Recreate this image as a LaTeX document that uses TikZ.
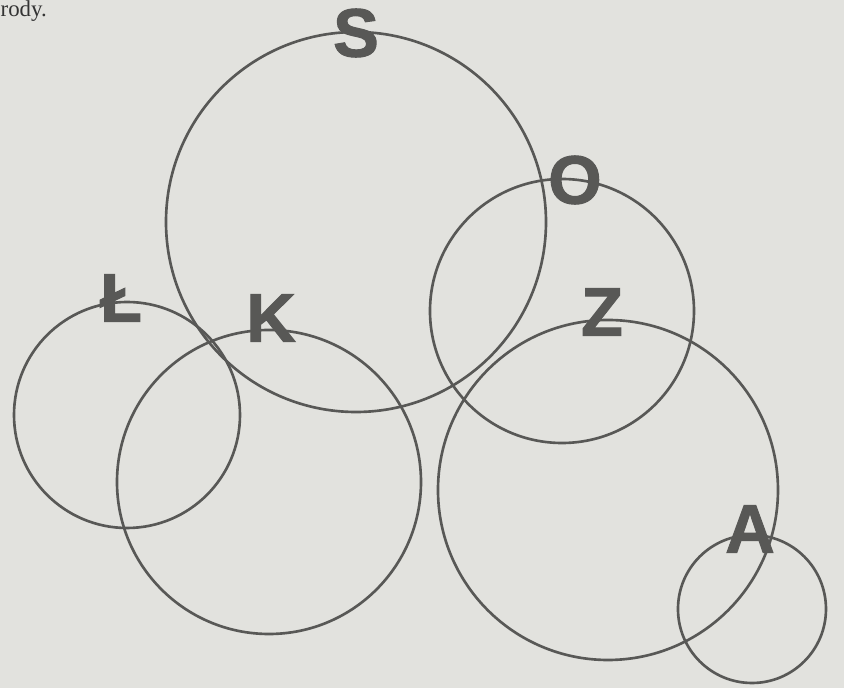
\documentclass[tikz,border=0pt]{standalone}
\usepackage{fontspec}
\setmainfont{Liberation Serif}
\newfontfamily\literyfont[FakeBold=1.5]{Liberation Sans Bold}
\definecolor{papier}{RGB}{226,226,222}
\definecolor{tusz}{RGB}{88,88,86}
\tikzset{
  kolo/.style={draw=tusz, line width=0.75pt},
  litera/.style={text=tusz, inner sep=0pt, font=\literyfont\fontsize{19.5}{20}\selectfont}
}
\begin{document}
\begin{tikzpicture}[x=0.01cm, y=-0.01cm]
% tlo
\fill[papier] (0, 0) rectangle (844, 688);
\useasboundingbox (0, 0) rectangle (844, 688);
\node[anchor=base west, inner sep=0pt, text=black!80, font=\fontsize{6.5}{7}\selectfont] (tekst) at (0, 17) {rody.};
% kola
\draw[kolo] (356, 222) circle (190);
\draw[kolo] (127, 415) circle (113);
\draw[kolo] (269, 482) circle (152);
\draw[kolo] (562, 311) circle (132);
\draw[kolo] (608, 490) circle (170);
\draw[kolo] (752, 609) circle (74);
% litery
\node[litera] (S) at (356, 33) {S};
\node[litera] (O) at (575, 180) {O};
\node[litera] (Z) at (602, 312) {Z};
\node[litera] (L) at (121, 298) {Ł};
\node[litera] (K) at (271, 318) {K};
\node[litera] (A) at (750, 529) {A};
\end{tikzpicture}
\end{document}
